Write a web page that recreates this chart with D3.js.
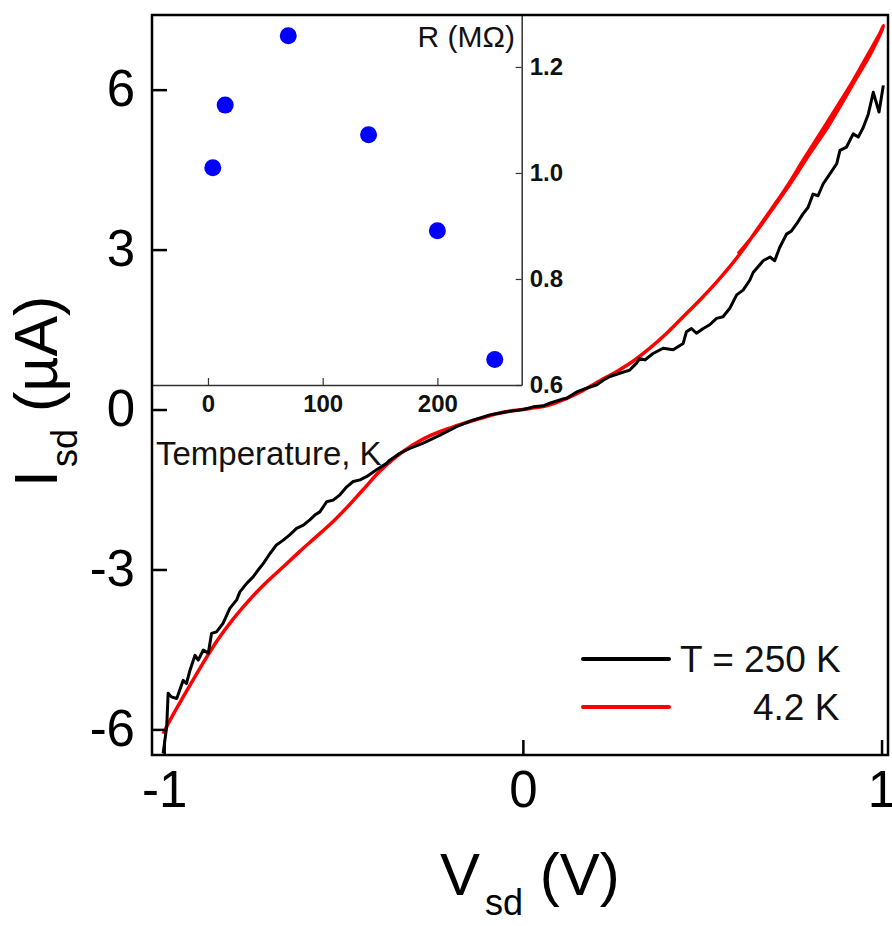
<!DOCTYPE html>
<html>
<head>
<meta charset="utf-8">
<script src="https://cdn.jsdelivr.net/npm/d3@7"></script>
<style>
  body { margin: 0; background: #fff; }
  svg { display: block; font-family: "Liberation Sans", Arial, sans-serif; }
</style>
</head>
<body>
<div id="chart"></div>
<script>
// I-V curves, [Vsd (V), Isd (uA)]
const curve250K = [
    [-1.003, -6.45], [-0.993, -5.95], [-0.989, -5.32], [-0.980, -5.39], [-0.965, -5.42],
    [-0.947, -5.08], [-0.938, -5.14], [-0.928, -4.89], [-0.914, -4.61], [-0.905, -4.70],
    [-0.891, -4.51], [-0.877, -4.57], [-0.868, -4.20], [-0.854, -4.17], [-0.836, -4.01],
    [-0.817, -3.73], [-0.798, -3.57], [-0.789, -3.42], [-0.770, -3.26], [-0.752, -3.14],
    [-0.738, -3.01], [-0.724, -2.89], [-0.705, -2.70], [-0.687, -2.54], [-0.668, -2.45],
    [-0.650, -2.35], [-0.631, -2.23], [-0.612, -2.17], [-0.594, -2.07], [-0.580, -1.98],
    [-0.566, -1.92], [-0.547, -1.73], [-0.529, -1.70], [-0.510, -1.60], [-0.491, -1.45],
    [-0.473, -1.35], [-0.454, -1.32], [-0.436, -1.26], [-0.408, -1.13], [-0.380, -1.01],
    [-0.371, -0.95], [-0.343, -0.82], [-0.315, -0.73], [-0.278, -0.63], [-0.231, -0.48],
    [-0.185, -0.32], [-0.139, -0.20], [-0.092, -0.10], [-0.045, -0.04], [0.001, 0.00],
    [0.029, 0.05], [0.057, 0.07], [0.075, 0.12], [0.112, 0.20], [0.122, 0.21],
    [0.150, 0.33], [0.178, 0.40], [0.205, 0.46], [0.224, 0.55], [0.243, 0.62],
    [0.270, 0.68], [0.298, 0.74], [0.317, 0.87], [0.326, 0.96], [0.340, 0.93],
    [0.363, 1.05], [0.391, 1.15], [0.419, 1.12], [0.447, 1.24], [0.456, 1.46],
    [0.470, 1.52], [0.484, 1.43], [0.503, 1.52], [0.521, 1.59], [0.540, 1.71],
    [0.558, 1.74], [0.577, 1.90], [0.596, 2.15], [0.614, 2.24], [0.633, 2.43],
    [0.642, 2.57], [0.670, 2.79], [0.689, 2.86], [0.702, 2.79], [0.716, 3.04],
    [0.735, 3.29], [0.749, 3.35], [0.763, 3.48], [0.781, 3.67], [0.795, 3.79],
    [0.809, 4.04], [0.823, 4.01], [0.837, 4.23], [0.856, 4.42], [0.875, 4.61],
    [0.884, 4.86], [0.902, 4.92], [0.921, 5.17], [0.935, 5.11], [0.949, 5.29],
    [0.963, 5.54], [0.977, 5.95], [0.993, 5.58], [1.005, 6.08]
];
// 4.2 K sweep up to +1 V and back (small hysteresis at the top)
const curve4K = [
    [-1.003, -6.08], [-0.984, -5.83], [-0.947, -5.39], [-0.900, -4.85], [-0.854, -4.35],
    [-0.808, -3.93], [-0.761, -3.56], [-0.715, -3.24], [-0.668, -2.95], [-0.622, -2.66],
    [-0.575, -2.38], [-0.529, -2.10], [-0.491, -1.84], [-0.445, -1.50], [-0.399, -1.16],
    [-0.352, -0.88], [-0.306, -0.66], [-0.259, -0.49], [-0.213, -0.37], [-0.166, -0.26],
    [-0.120, -0.17], [-0.073, -0.08], [-0.027, -0.02], [0.020, 0.02], [0.066, 0.07],
    [0.112, 0.18], [0.168, 0.36], [0.215, 0.54], [0.261, 0.71], [0.308, 0.91],
    [0.354, 1.15], [0.401, 1.43], [0.447, 1.74], [0.493, 2.05], [0.540, 2.39],
    [0.577, 2.68], [0.614, 3.00], [0.642, 3.27], [0.689, 3.72], [0.735, 4.17],
    [0.781, 4.67], [0.828, 5.17], [0.875, 5.67], [0.921, 6.17], [0.958, 6.61],
    [0.995, 7.05], [1.005, 7.20],
    [1.000, 7.10], [0.965, 6.62], [0.930, 6.22], [0.890, 5.75], [0.850, 5.30],
    [0.800, 4.80], [0.750, 4.28], [0.700, 3.80], [0.650, 3.33], [0.600, 2.92]
];
const xTicks = [-1, 0, 1];
const yTicks = [-6, -3, 0, 3, 6];

// inset: zero-bias resistance vs temperature
const insetTemps = [4.2, 15, 70, 140, 200, 250];
const insetR = [1.010, 1.128, 1.259, 1.072, 0.891, 0.648];
const insetXTicks = [0, 100, 200];
const insetYTicks = [0.6, 0.8, 1.0, 1.2];

const legendItems = [
    { label: "T = 250 K", color: "#000", dx: 0 },
    { label: "4.2 K", color: "#ff0000", dx: 73 }
];

const W = 892, H = 926;
const mLeft = 152, mRight = 888, mTop = 15, mBottom = 755;

const svg = d3.select("#chart").append("svg")
    .attr("width", W)
    .attr("height", H);

const x = d3.scaleLinear().domain([-1.034, 1.018]).range([mLeft, mRight]);
const y = d3.scaleLinear().domain([-6.48, 7.40]).range([mBottom, mTop]);

svg.append("clipPath").attr("id", "plotclip")
    .append("rect")
    .attr("x", mLeft).attr("y", mTop)
    .attr("width", mRight - mLeft).attr("height", mBottom - mTop);

// inset
const insetRight = 521.7, insetBottom = 385;
const ix = d3.scaleLinear().domain([-48.8, 273.5]).range([mLeft, insetRight]);
const iy = d3.scaleLinear().domain([0.6, 1.298]).range([insetBottom, mTop]);

const inset = svg.append("g");

const insetXAxis = inset.append("g")
    .attr("transform", `translate(0,${insetBottom})`)
    .call(d3.axisBottom(ix).tickValues(insetXTicks).tickSizeInner(-7).tickSizeOuter(0).tickPadding(10));

const insetYAxis = inset.append("g")
    .attr("transform", `translate(${insetRight},0)`)
    .call(d3.axisRight(iy).tickValues(insetYTicks).tickFormat(d3.format(".1f"))
        .tickSizeInner(-6).tickSizeOuter(0).tickPadding(8));

[insetXAxis, insetYAxis].forEach(a => {
    a.select(".domain").attr("stroke", "#333").attr("stroke-width", 1.5);
    a.selectAll(".tick line").attr("stroke", "#333").attr("stroke-width", 1.2);
    a.selectAll("text")
        .attr("font-family", "'Liberation Sans', Arial, sans-serif")
        .attr("font-size", 24)
        .attr("font-weight", "bold")
        .attr("fill", "#111");
});

inset.selectAll("circle")
    .data(insetTemps)
    .join("circle")
    .attr("cx", d => ix(d))
    .attr("cy", (d, i) => iy(insetR[i]))
    .attr("r", 8.5)
    .attr("fill", "#0000ff");

inset.append("text")
    .attr("x", 515).attr("y", 47)
    .attr("text-anchor", "end")
    .attr("font-size", 30)
    .attr("fill", "#111")
    .text("R (MΩ)");

inset.append("text")
    .attr("x", 156).attr("y", 465)
    .attr("font-size", 33)
    .attr("fill", "#111")
    .text("Temperature, K");

// curves
const line = d3.line().x(d => x(d[0])).y(d => y(d[1]));
const smoothLine = d3.line().x(d => x(d[0])).y(d => y(d[1])).curve(d3.curveCatmullRom);

const curves = svg.append("g").attr("clip-path", "url(#plotclip)");

curves.append("path")
    .datum(curve4K)
    .attr("fill", "none")
    .attr("stroke", "#ff0000")
    .attr("stroke-width", 3.5)
    .attr("stroke-linejoin", "round")
    .attr("d", smoothLine);

curves.append("path")
    .datum(curve250K)
    .attr("fill", "none")
    .attr("stroke", "#000")
    .attr("stroke-width", 3)
    .attr("stroke-linejoin", "round")
    .attr("d", line);

// main axes
const xAxis = svg.append("g")
    .attr("transform", `translate(0,${mBottom})`)
    .call(d3.axisBottom(x).tickValues(xTicks).tickFormat(d3.format("d"))
        .tickSizeInner(-15).tickSizeOuter(0).tickPadding(16));

const yAxis = svg.append("g")
    .attr("transform", `translate(${mLeft},0)`)
    .call(d3.axisLeft(y).tickValues(yTicks).tickFormat(d3.format("d"))
        .tickSizeInner(-15).tickSizeOuter(0).tickPadding(17));

[xAxis, yAxis].forEach(a => {
    a.select(".domain").remove();
    a.selectAll(".tick line").attr("stroke", "#000").attr("stroke-width", 2.5);
    a.selectAll("text")
        .attr("font-family", "'Liberation Sans', Arial, sans-serif")
        .attr("font-size", 51)
        .attr("fill", "#000");
});
// d3 puts a minus sign, the figure uses a hyphen
svg.selectAll(".tick text").text(function () { return this.textContent.replace("\u2212", "-"); });

svg.append("rect")
    .attr("x", mLeft).attr("y", mTop)
    .attr("width", mRight - mLeft).attr("height", mBottom - mTop)
    .attr("fill", "none")
    .attr("stroke", "#000")
    .attr("stroke-width", 2.5);

// axis titles
const xTitle = svg.append("text")
    .attr("x", 440).attr("y", 895)
    .attr("font-size", 60);
xTitle.append("tspan").text("V");
xTitle.append("tspan").attr("font-size", 36).attr("dx", 5).attr("dy", 20).text("sd");
xTitle.append("tspan").attr("dy", -20).text(" (V)");

const yTitle = svg.append("text")
    .attr("transform", "translate(57,487) rotate(-90)")
    .attr("font-size", 61);
yTitle.append("tspan").text("I");
yTitle.append("tspan").attr("font-size", 36).attr("dx", 3).attr("dy", 20).text("sd");
yTitle.append("tspan").attr("dy", -20).text(" (µA)");

// legend
const legend = svg.append("g");
legendItems.forEach((d, i) => {
    const ly = 659 + i * 48;
    legend.append("line")
        .attr("x1", 583).attr("x2", 669)
        .attr("y1", ly).attr("y2", ly)
        .attr("stroke", d.color)
        .attr("stroke-width", 4)
        .attr("stroke-linecap", "round");
    legend.append("text")
        .attr("x", 680 + d.dx).attr("y", ly + 13)
        .attr("font-size", 37)
        .attr("fill", "#111")
        .text(d.label);
});
</script>
</body>
</html>
